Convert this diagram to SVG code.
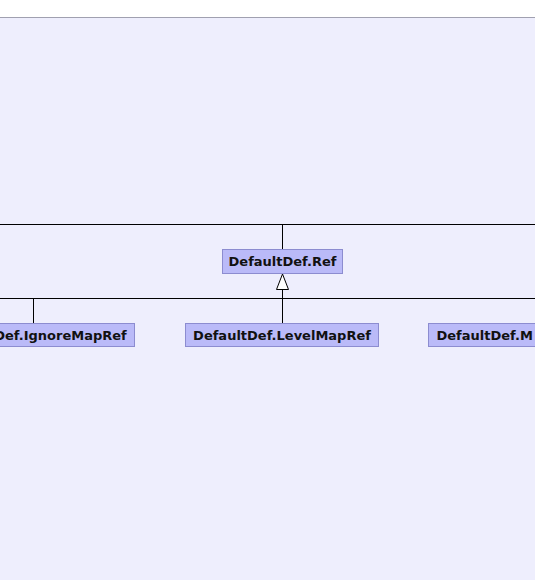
<svg xmlns="http://www.w3.org/2000/svg" width="535" height="580" viewBox="0 0 535 580">
<style>
.node rect{fill:#babaf8;stroke:#8c8cd0;stroke-width:1}
.node text{font-family:"DejaVu Sans",sans-serif;font-weight:bold;font-size:13px;fill:#111}
.conn line{stroke:#000;stroke-width:1}
</style>
<rect x="0" y="0" width="535" height="580" fill="#ffffff"/>
<rect x="0" y="17" width="535" height="563" fill="#eeeefd"/>
<line x1="0" y1="17.5" x2="535" y2="17.5" stroke="#a0a0b0" stroke-width="1"/>
<g id="connectors" class="conn">
<line x1="0" y1="224.5" x2="535" y2="224.5"/>
<line x1="282.5" y1="224.5" x2="282.5" y2="249"/>
<line x1="0" y1="298.5" x2="535" y2="298.5"/>
<line x1="33.5" y1="298.5" x2="33.5" y2="323"/>
<line x1="282.5" y1="289" x2="282.5" y2="323"/>
<polygon points="282.5,274 276.5,289.5 288.5,289.5" fill="#ffffff" stroke="#000" stroke-width="1"/>
</g>
<g id="node-ref" class="node">
<rect x="222.5" y="249.5" width="120" height="24"/>
<text x="282.5" y="266" text-anchor="middle">DefaultDef.Ref</text>
</g>
<g id="node-ignoremapref" class="node">
<rect x="-68.5" y="323.5" width="203" height="23"/>
<text x="33.5" y="340" text-anchor="middle">DefaultDef.IgnoreMapRef</text>
</g>
<g id="node-levelmapref" class="node">
<rect x="185.5" y="323.5" width="193" height="23"/>
<text x="282" y="340" text-anchor="middle">DefaultDef.LevelMapRef</text>
</g>
<g id="node-m" class="node">
<rect x="428.5" y="323.5" width="130" height="23"/>
<text x="436.5" y="340">DefaultDef.M</text>
</g>
</svg>
